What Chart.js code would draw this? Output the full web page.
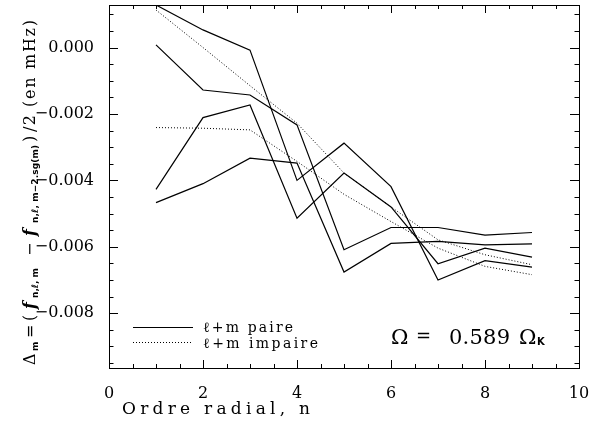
<!DOCTYPE html>
<html>
<head>
<meta charset="utf-8">
<script src="https://cdn.jsdelivr.net/npm/chart.js@4/dist/chart.umd.min.js"></script>
<style>
  body { margin: 0; background: #fff; }
  canvas { display: block; }
</style>
</head>
<body>
<canvas id="mycanvas" width="589" height="423"></canvas>
<script>
// radial order n
const n = [1, 2, 3, 4, 5, 6, 7, 8, 9]
// l+m even (solid)
const paire1 = [0.00128, 0.00053, -0.00008, -0.00400, -0.00288, -0.00419, -0.00700, -0.00642, -0.00661]
const paire2 = [0.00008, -0.00128, -0.00143, -0.00233, -0.00609, -0.00542, -0.00542, -0.00565, -0.00557]
const paire3 = [-0.00427, -0.00211, -0.00173, -0.00514, -0.00378, -0.00480, -0.00651, -0.00604, -0.00631]
const paire4 = [-0.00467, -0.00410, -0.00333, -0.00348, -0.00676, -0.00590, -0.00584, -0.00594, -0.00591]
// l+m odd (dotted)
const impaire1 = [0.00113, 0.00000, -0.00115, -0.00228, -0.00378, -0.00480, -0.00579, -0.00624, -0.00654]
const impaire2 = [-0.00241, -0.00243, -0.00248, -0.00343, -0.00442, -0.00524, -0.00604, -0.00659, -0.00684]

const xTicks = [0, 2, 4, 6, 8, 10]
const yTicks = [0, -0.002, -0.004, -0.006, -0.008]

const serif = "'DejaVu Serif', serif"
const sans = "'DejaVu Sans', sans-serif"

function pts(arr) {
  return n.map((v, i) => ({ x: v, y: arr[i] }))
}
function solid(arr) {
  return { data: pts(arr), borderColor: '#000', borderWidth: 1.2, pointRadius: 0, fill: false, tension: 0 }
}
function dotted(arr) {
  return { data: pts(arr), borderColor: '#000', borderWidth: 1, borderDash: [1, 2], pointRadius: 0, fill: false, tension: 0 }
}

// draw text spread out to a given length (the IDL font is wide)
function spread(ctx, text, x, y, w) {
  let chars = Array.from(text)
  let widths = chars.map(c => ctx.measureText(c).width)
  let total = widths.reduce((a, b) => a + b, 0)
  let gap = chars.length > 1 ? (w - total) / (chars.length - 1) : 0
  let cx = x
  chars.forEach((c, i) => { ctx.fillText(c, cx, y); cx += widths[i] + gap })
}

// box with inward ticks on all four sides
const frame = {
  id: 'frame',
  afterDatasetsDraw(chart) {
    const { ctx, chartArea: { left, right, top, bottom }, scales: { x, y } } = chart
    ctx.save()
    ctx.strokeStyle = '#000'
    ctx.lineWidth = 1
    ctx.strokeRect(left + 0.5, top + 0.5, right - left, bottom - top)
    ctx.beginPath()
    for (let k = 0; k <= 20; k++) {
      let v = k * 0.5
      let len = k % 4 == 0 ? 8 : 4
      let px = Math.round(x.getPixelForValue(v)) + 0.5
      ctx.moveTo(px, bottom); ctx.lineTo(px, bottom - len)
      ctx.moveTo(px, top); ctx.lineTo(px, top + len)
    }
    for (let k = -19; k <= 2; k++) {
      let v = k * 0.0005
      let len = k % 4 == 0 ? 9 : 4.5
      let py = Math.round(y.getPixelForValue(v)) + 0.5
      ctx.moveTo(left, py); ctx.lineTo(left + len, py)
      ctx.moveTo(right, py); ctx.lineTo(right - len, py)
    }
    ctx.stroke()
    ctx.restore()
  },
  afterDraw(chart) {
    const ctx = chart.ctx
    ctx.save()
    ctx.fillStyle = '#000'
    ctx.textBaseline = 'alphabetic'
    ctx.textAlign = 'left'

    // x title
    ctx.font = '17px ' + serif
    spread(ctx, 'Ordre radial, n', 122, 413.5, 188)

    // y title, rotated, with subscripts
    ctx.save()
    ctx.translate(35, 0)
    ctx.rotate(-Math.PI / 2)
    const main = '16px ' + serif, ital = 'italic bold 16px ' + serif, sub = 'bold 9px ' + sans
    const segs = [
      ['Δ', 365, 351, main, 0],
      ['m', 351, 346, sub, 3],
      ['=', 338, 326, main, 0],
      ['(', 321, 312, main, 0],
      ['f', 309, 300, ital, 0],
      ['n,ℓ, m', 298, 268, sub, 3],
      ['−', 256, 243, main, 0],
      ['f', 236, 227, ital, 0],
      ['n,ℓ, m−2.sg(m)', 223, 145, sub, 3],
      [')', 142, 134, main, 0],
      ['/2', 132, 115, main, 0],
      ['(en mHz)', 107, 20, main, 0]
    ]
    segs.forEach(s => {
      ctx.font = s[3]
      spread(ctx, s[0], -s[1], s[4], s[1] - s[2])
    })
    ctx.restore()

    // legend
    ctx.lineWidth = 1.2
    ctx.strokeStyle = '#000'
    ctx.beginPath(); ctx.moveTo(133, 327.5); ctx.lineTo(193, 327.5); ctx.stroke()
    ctx.lineWidth = 1
    ctx.setLineDash([1, 2])
    ctx.beginPath(); ctx.moveTo(133, 342.5); ctx.lineTo(193, 342.5); ctx.stroke()
    ctx.setLineDash([])
    ctx.font = '14px ' + serif
    spread(ctx, 'ℓ+m paire', 203, 331.5, 90)
    spread(ctx, 'ℓ+m impaire', 203, 347.5, 115)

    // rotation annotation
    ctx.font = '21px ' + serif
    ctx.fillText('Ω', 391, 343.5)
    spread(ctx, '0.589', 449, 343.5, 61)
    ctx.fillText('Ω', 519, 343.5)
    ctx.font = '18px ' + serif
    ctx.fillText('=', 416, 342)
    ctx.font = 'bold 10px ' + sans
    ctx.fillText('K', 537, 345)
    ctx.restore()
  }
}

let chart = new Chart(document.getElementById('mycanvas'), {
  type: 'line',
  data: {
    datasets: [
      solid(paire1), solid(paire2), solid(paire3), solid(paire4),
      dotted(impaire1), dotted(impaire2)
    ]
  },
  options: {
    responsive: false,
    animation: false,
    devicePixelRatio: 1,
    layout: { padding: { top: 5, right: 10, left: 0, bottom: 0 } },
    plugins: { legend: { display: false }, tooltip: { enabled: false } },
    scales: {
      x: {
        type: 'linear', min: 0, max: 10,
        grid: { display: false }, border: { display: false },
        afterBuildTicks: s => { s.ticks = xTicks.map(v => ({ value: v })) },
        afterFit: s => { s.height = 55; s.paddingLeft = 0; s.paddingRight = 0 },
        ticks: { color: '#000', font: { family: serif, size: 16 }, padding: 8, maxRotation: 0, autoSkip: false }
      },
      y: {
        type: 'linear', min: -0.00965, max: 0.00128,
        grid: { display: false }, border: { display: false },
        afterBuildTicks: s => { s.ticks = yTicks.map(v => ({ value: v })) },
        afterFit: s => { s.width = 109; s.paddingTop = 0; s.paddingBottom = 0 },
        ticks: {
          color: '#000', font: { family: serif, size: 16 }, padding: 7, autoSkip: false,
          callback: v => (v < 0 ? '\u2212' : '') + Math.abs(v).toFixed(3)
        }
      }
    }
  },
  plugins: [frame]
})
</script>
</body>
</html>
